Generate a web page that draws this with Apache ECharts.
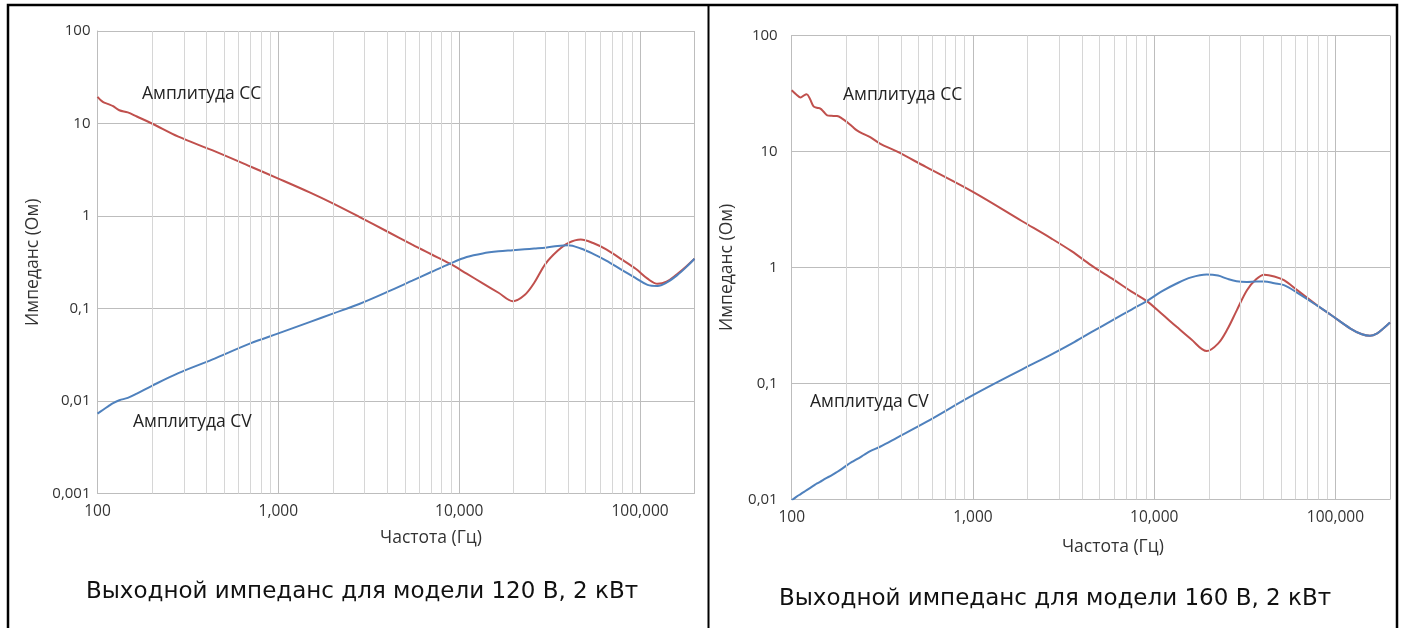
<!DOCTYPE html>
<html><head><meta charset="utf-8">
<script src="https://cdn.jsdelivr.net/npm/echarts@6/dist/echarts.min.js"></script>
<style>html,body{margin:0;padding:0;background:#fff}#c{width:1403px;height:628px}</style>
</head><body><div id="c"></div>
<script>
// ---- Left chart (120 В, 2 кВт) ----
const freqL = [100,107,115,122,132,147,165,200,280,430,700,1000,1500,2000,2800,4000,5500,7000,8900,11000,13500,16500,19800,23000,26000,30000,35000,40000,47000,55000,65000,80000,95000,110000,125000,140000,160000,180000,200000];
const ccL = [19.4,17.1,16.2,15.4,13.9,13.2,11.9,10.0,7.2,5.15,3.43,2.54,1.79,1.37,0.98,0.68,0.49,0.386,0.305,0.238,0.187,0.148,0.12,0.14,0.19,0.304,0.42,0.51,0.557,0.51,0.435,0.335,0.267,0.21,0.185,0.195,0.235,0.285,0.345];
const cvL = [0.0073,0.0080,0.0088,0.0095,0.0102,0.0108,0.0120,0.0146,0.0200,0.028,0.042,0.0538,0.0716,0.088,0.112,0.151,0.2,0.248,0.306,0.36,0.394,0.415,0.427,0.437,0.445,0.455,0.475,0.483,0.445,0.39,0.33,0.258,0.212,0.18,0.175,0.19,0.228,0.28,0.345];

// ---- Right chart (160 В, 2 кВт) ----
const freqR = [100,106,112,117,121,126,132,138,144,150,157,165,178,190,202,215,229,250,271,307,380,550,1000,1870,2700,3500,4500,6000,7500,9100,11000,13300,16000,19500,22500,25200,28500,32500,36500,40500,46000,52000,62000,79000,95000,121000,140000,155000,170000,185000,200000];
const ccR = [33.7,31,29.2,30.5,31.1,28.5,24.5,23.8,23.4,22,20.5,20.3,20.2,19.2,17.9,16.5,15.2,14.1,13.3,11.7,10.0,7.35,4.48,2.5,1.78,1.38,1.04,0.78,0.618,0.512,0.398,0.307,0.24,0.19,0.22,0.288,0.424,0.636,0.79,0.865,0.835,0.776,0.63,0.472,0.387,0.297,0.265,0.257,0.27,0.3,0.335];
const cvR = [0.0098,0.0105,0.0111,0.0116,0.012,0.0125,0.0131,0.0137,0.0142,0.0148,0.0154,0.016,0.0172,0.0184,0.0197,0.021,0.0222,0.0241,0.026,0.0284,0.0339,0.0462,0.079,0.132,0.177,0.22,0.276,0.356,0.433,0.512,0.62,0.726,0.82,0.868,0.85,0.8,0.76,0.75,0.755,0.755,0.73,0.703,0.6,0.47,0.387,0.297,0.265,0.257,0.27,0.3,0.335];

// minor vertical gridlines (frequency axis)
const minorFreqs = [200,300,400,500,600,700,800,900,2000,3000,4000,5000,6000,7000,8000,9000,20000,30000,40000,50000,60000,70000,80000,90000];

const seriesNames = ['Амплитуда CC', 'Амплитуда CV'];
const captions = ['Выходной импеданс для модели 120 В, 2 кВт', 'Выходной импеданс для модели 160 В, 2 кВт'];
const xName = 'Частота (Гц)';
const yName = 'Импеданс (Ом)';

const RED = '#c0504d', BLUE = '#4f81bd';
const GRID_MAJOR = '#bdbdbd', GRID_MINOR = '#d6d6d6';
const FONT = 'Open Sans';

function pairs(f, v) { return f.map((x, i) => [x, v[i]]); }
function fmtX(v) { return Math.round(v).toLocaleString('en-US'); }
function fmtY(v) {
  const n = Number(v.toPrecision(3));
  return n >= 1 ? String(n) : String(n).replace('.', ',');
}

function xAxisCfg(gi, nameGap, namePadLeft) {
  return {
    type: 'log', logBase: 10, gridIndex: gi, min: 100, max: 200000,
    name: xName, nameLocation: 'middle', nameGap: nameGap,
    nameTextStyle: { fontFamily: FONT, fontSize: 17.5, color: '#333', padding: [0, 0, 0, namePadLeft] },
    axisLine: { show: true, lineStyle: { color: GRID_MAJOR, width: 1 } },
    axisTick: { show: false },
    axisLabel: { formatter: fmtX, showMaxLabel: false, fontFamily: FONT, fontSize: 15.5, color: '#333', margin: 10 },
    splitLine: { show: true, lineStyle: { color: GRID_MAJOR, width: 1 } }
  };
}
function yAxisCfg(gi, min, nameGap, margin) {
  return {
    type: 'log', logBase: 10, gridIndex: gi, min: min, max: 100,
    name: yName, nameLocation: 'middle', nameGap: nameGap, nameRotate: 90,
    nameTextStyle: { fontFamily: FONT, fontSize: 17.5, color: '#333' },
    axisLine: { show: true, lineStyle: { color: GRID_MAJOR, width: 1 } },
    axisTick: { show: false },
    axisLabel: { formatter: fmtY, fontFamily: FONT, fontSize: 15, color: '#333', margin: margin },
    splitLine: { show: true, lineStyle: { color: GRID_MAJOR, width: 1 } }
  };
}
function minorSeries(gi) {
  return {
    type: 'line', xAxisIndex: gi, yAxisIndex: gi, data: [], silent: true, z: 1,
    markLine: {
      silent: true, symbol: 'none', animation: false,
      label: { show: false },
      lineStyle: { color: GRID_MINOR, type: 'solid', width: 1 },
      data: minorFreqs.map(f => ({ xAxis: f }))
    }
  };
}
function dataSeries(gi, name, data, color) {
  return {
    type: 'line', name: name, xAxisIndex: gi, yAxisIndex: gi, data: data,
    smooth: 0.35, showSymbol: false, symbol: 'none', z: 3,
    lineStyle: { color: color, width: 2 }, itemStyle: { color: color }
  };
}

const annStyle = { fontFamily: FONT, fontSize: 17.5, fill: '#222' };
const capStyle = { fontFamily: 'DejaVu Sans', fontSize: 23, fontWeight: 'normal', color: '#111' };
const chart = echarts.init(document.getElementById('c'), null, { renderer: 'canvas' });
chart.setOption({
  animation: false,
  backgroundColor: '#fff',
  grid: [
    { left: 97.5, top: 31, width: 597, height: 462.5 },
    { left: 791.7, top: 35.5, width: 598.3, height: 463.8 }
  ],
  xAxis: [xAxisCfg(0, 35.5, 70), xAxisCfg(1, 38.5, 44)],
  yAxis: [yAxisCfg(0, 0.001, 55.5, 7), yAxisCfg(1, 0.01, 55.5, 14)],
  title: [
    { text: captions[0], left: 357, top: 576, textAlign: 'center', textStyle: capStyle },
    { text: captions[1], left: 1050, top: 583, textAlign: 'center', textStyle: capStyle }
  ],
  series: [
    minorSeries(0), minorSeries(1),
    dataSeries(0, seriesNames[0], pairs(freqL, ccL), RED),
    dataSeries(0, seriesNames[1], pairs(freqL, cvL), BLUE),
    dataSeries(1, seriesNames[0], pairs(freqR, ccR), RED),
    dataSeries(1, seriesNames[1], pairs(freqR, cvR), BLUE)
  ],
  graphic: [
    { type: 'polyline', shape: { points: [[8, 640], [8, 5], [1397, 5], [1397, 640]] },
      style: { stroke: '#000', lineWidth: 2.5, fill: null }, z: 100 },
    { type: 'line', shape: { x1: 708.5, y1: 5, x2: 708.5, y2: 640 },
      style: { stroke: '#000', lineWidth: 2 }, z: 100 },
    { type: 'text', left: 142, top: 85.5, style: Object.assign({ text: seriesNames[0] }, annStyle), z: 50 },
    { type: 'text', left: 133, top: 413, style: Object.assign({ text: seriesNames[1] }, annStyle), z: 50 },
    { type: 'text', left: 843, top: 86.5, style: Object.assign({ text: seriesNames[0] }, annStyle), z: 50 },
    { type: 'text', left: 810, top: 393, style: Object.assign({ text: seriesNames[1] }, annStyle), z: 50 }
  ]
});
</script>
</body></html>
